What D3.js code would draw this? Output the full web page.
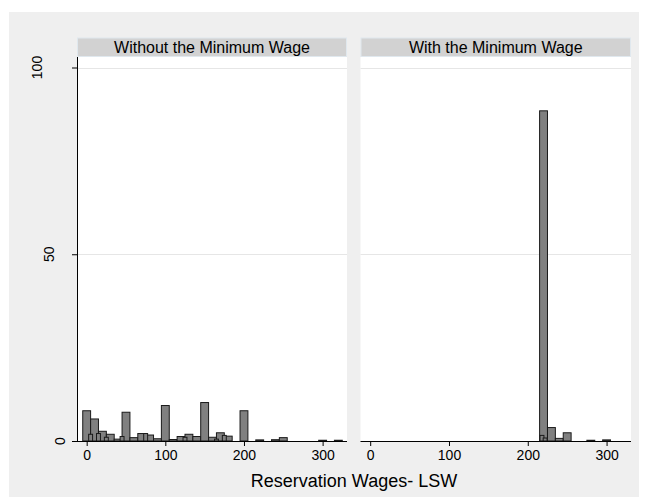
<!DOCTYPE html>
<html>
<head>
<meta charset="utf-8">
<script src="https://cdn.jsdelivr.net/npm/d3@7"></script>
<style>
  body { margin: 0; background: #fff; }
  text { font-family: "Liberation Sans", Arial, sans-serif; fill: #000; }
</style>
</head>
<body>
<div id="chart"></div>
<script>
// Données (pourcentages)
const panelTitles = ["Without the Minimum Wage", "With the Minimum Wage"];
const xTicks = [0, 100, 200, 300];
const yTicks = [0, 50, 100];
const xTitle = "Reservation Wages- LSW";

// panneau gauche : barres principales (largeur 10)
const leftMids = [0, 10, 20, 30, 40, 50, 60, 70, 80, 90, 100, 110, 120, 130, 140, 150, 160, 170, 180, 200, 220, 240, 250, 300, 320];
const leftPct  = [8.1, 5.9, 2.6, 1.8, 0.5, 7.7, 0.9, 2.0, 1.6, 0.6, 9.5, 0.4, 1.2, 1.8, 1.2, 10.3, 1.0, 2.2, 1.3, 8.1, 0.3, 0.35, 0.9, 0.2, 0.2];
// panneau gauche : petites barres superposées (largeur 5)
const leftSubMids = [5, 15, 25, 45, 75, 125, 165, 175];
const leftSubPct  = [1.8, 2.0, 1.0, 1.2, 2.0, 1.0, 0.5, 1.5];

// panneau droit
const rightMids = [220, 230, 240, 250, 280, 300];
const rightPct  = [88.4, 3.6, 0.7, 2.2, 0.2, 0.3];
const rightSubMids = [218, 222];
const rightSubPct  = [1.5, 0.8];

const width = 646;
const height = 501;

const svg = d3.select("#chart")
    .append("svg")
    .attr("width", width)
    .attr("height", height);

// fond gris du graphique
svg.append("rect")
    .attr("x", 9).attr("y", 12)
    .attr("width", 630).attr("height", 485)
    .attr("fill", "#efefef");

const plotTop = 57, plotBottom = 441;
const y = d3.scaleLinear().domain([0, 100]).range([plotBottom, 67.5]);

const panels = [
    { title: panelTitles[0], x0: 77, x1: 347, mids: leftMids, pct: leftPct, subMids: leftSubMids, subPct: leftSubPct },
    { title: panelTitles[1], x0: 360.5, x1: 631, mids: rightMids, pct: rightPct, subMids: rightSubMids, subPct: rightSubPct }
];

panels.forEach(function(p, i) {
    const x = d3.scaleLinear().domain([-12.3, 331]).range([p.x0, p.x1]);
    const g = svg.append("g");

    // zone de tracé blanche
    g.append("rect")
        .attr("x", p.x0).attr("y", plotTop)
        .attr("width", p.x1 - p.x0).attr("height", plotBottom - plotTop)
        .attr("fill", "#fff");

    // bandeau du titre
    g.append("rect")
        .attr("x", p.x0 + 0.5).attr("y", 38)
        .attr("width", p.x1 - p.x0 - 1).attr("height", 18.5)
        .attr("fill", "#d2d2d2")
        .attr("stroke", "#e0e8ee");
    g.append("text")
        .attr("x", (p.x0 + p.x1) / 2).attr("y", 52.5)
        .attr("text-anchor", "middle")
        .style("font-size", "16px")
        .text(p.title);

    // lignes de grille
    g.selectAll(".grid")
        .data(yTicks.filter(function(d) { return d > 0; }))
        .enter().append("line")
        .attr("x1", p.x0).attr("x2", p.x1)
        .attr("y1", function(d) { return Math.round(y(d)) + 0.5; })
        .attr("y2", function(d) { return Math.round(y(d)) + 0.5; })
        .attr("stroke", "#e6e6e6");

    // barres (principales puis superposées)
    const bars = p.mids.map(function(m, k) { return { mid: m, pct: p.pct[k], w: 10 }; })
        .concat(p.subMids.map(function(m, k) { return { mid: m, pct: p.subPct[k], w: 5 }; }));
    g.selectAll(".bar")
        .data(bars)
        .enter().append("rect")
        .attr("x", function(d) { return x(d.mid - d.w / 2); })
        .attr("width", function(d) { return x(d.mid + d.w / 2) - x(d.mid - d.w / 2); })
        .attr("y", function(d) { return y(d.pct); })
        .attr("height", function(d) { return y(0) - y(d.pct); })
        .attr("fill", "#808080")
        .attr("stroke", "#1a1a1a")
        .attr("stroke-width", 1);

    // axe des x
    const xAxis = g.append("g")
        .attr("transform", "translate(0," + plotBottom + ")")
        .call(d3.axisBottom(x).tickValues(xTicks).tickSize(5).tickPadding(4).tickSizeOuter(0));
    xAxis.select(".domain").attr("d", "M" + p.x0 + ",0.5H" + p.x1).attr("stroke", "#000");
    xAxis.selectAll("text").style("font-size", "14px").attr("font-family", null);

    // axe des y (panneau gauche seulement)
    if (i === 0) {
        const yAxis = g.append("g")
            .attr("transform", "translate(" + p.x0 + ",0)")
            .call(d3.axisLeft(y).tickValues(yTicks).tickSize(5).tickSizeOuter(0));
        yAxis.select(".domain").attr("d", "M0.5," + plotTop + "V" + plotBottom).attr("stroke", "#000");
        yAxis.selectAll("text").remove();
        g.selectAll(".ylab")
            .data(yTicks)
            .enter().append("text")
            .style("font-size", "14px")
            .attr("text-anchor", "middle")
            .attr("dy", "0.36em")
            .text(function(d) { return d; })
            .attr("transform", function(d) {
                const w = this.getComputedTextLength();
                return "translate(" + (71.5 - 1.47 * w) + "," + y(d) + ") rotate(-90)";
            });
    }
});

// titre de l'axe des x
svg.append("text")
    .attr("x", 354).attr("y", 487)
    .attr("text-anchor", "middle")
    .style("font-size", "18px")
    .text(xTitle);
</script>
</body>
</html>
